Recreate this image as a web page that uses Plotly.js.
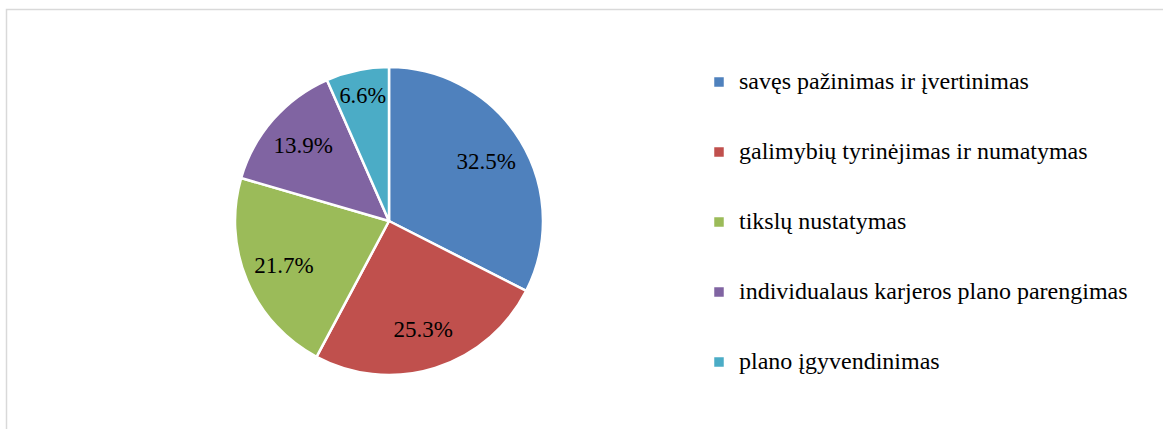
<!DOCTYPE html>
<html>
<head>
<meta charset="utf-8">
<script src="https://cdn.plot.ly/plotly-3.0.1.min.js"></script>
<style>html,body{margin:0;padding:0;background:#fff;}#chart{width:1163px;height:429px;}</style>
</head>
<body>
<div id="chart"></div>
<script>
const categories = [
  "savęs pažinimas ir įvertinimas",
  "galimybių tyrinėjimas ir numatymas",
  "tikslų nustatymas",
  "individualaus karjeros plano parengimas",
  "plano įgyvendinimas"
];
const values = [32.5, 25.3, 21.7, 13.9, 6.6];
const colors = ["#4F81BD", "#C0504D", "#9BBB59", "#8064A2", "#4BACC6"];

const W = 1163, H = 429;
const cx = 389, cy = 221, r = 154;
const domain = {x: [(cx - r) / W, (cx + r) / W], y: [(H - cy - r) / H, (H - cy + r) / H]};
const serif = "Liberation Serif, Times New Roman, serif";

// legend labels padded with blank lines so rows are spaced like the original
const legendLabels = categories.map(c => "\u00a0<br><span style=\"font-size:24px\">" + c + "</span><br>\u00a0");

// visible slices (no text)
const slices = {
  type: "pie",
  labels: legendLabels,
  values: values,
  sort: false,
  direction: "clockwise",
  rotation: 0,
  marker: {colors: colors, line: {color: "#ffffff", width: 2.5}},
  textinfo: "none",
  hoverinfo: "none",
  domain: domain
};

// transparent ring on top that only carries the percentage labels,
// so they sit further out from the centre as in the original
const labelsRing = {
  type: "pie",
  labels: categories,
  values: values,
  sort: false,
  direction: "clockwise",
  rotation: 0,
  hole: 0.48,
  showlegend: false,
  marker: {colors: colors.map(() => "rgba(0,0,0,0)"), line: {width: 0}},
  texttemplate: "%{value:.1f}%",
  textposition: "inside",
  insidetextorientation: "horizontal",
  textfont: {family: serif, size: 23, color: "#000000"},
  hoverinfo: "none",
  domain: domain
};

const layout = {
  width: W, height: H,
  margin: {l: 0, r: 0, t: 0, b: 0},
  paper_bgcolor: "#ffffff",
  showlegend: true,
  legend: {
    x: 699 / W, xanchor: "left",
    y: 1 - 42 / H, yanchor: "top",
    font: {family: serif, size: 17.18, color: "#000000"},
    bgcolor: "rgba(0,0,0,0)"
  },
  shapes: [{
    type: "rect", xref: "paper", yref: "paper",
    x0: 6.5 / W, x1: 1.02, y0: -0.05, y1: 1 - 9.5 / H,
    line: {color: "#D9D9D9", width: 1.5}, fillcolor: "rgba(0,0,0,0)", layer: "below"
  }]
};

Plotly.newPlot("chart", [slices, labelsRing], layout, {displayModeBar: false, staticPlot: true});
</script>
</body>
</html>
